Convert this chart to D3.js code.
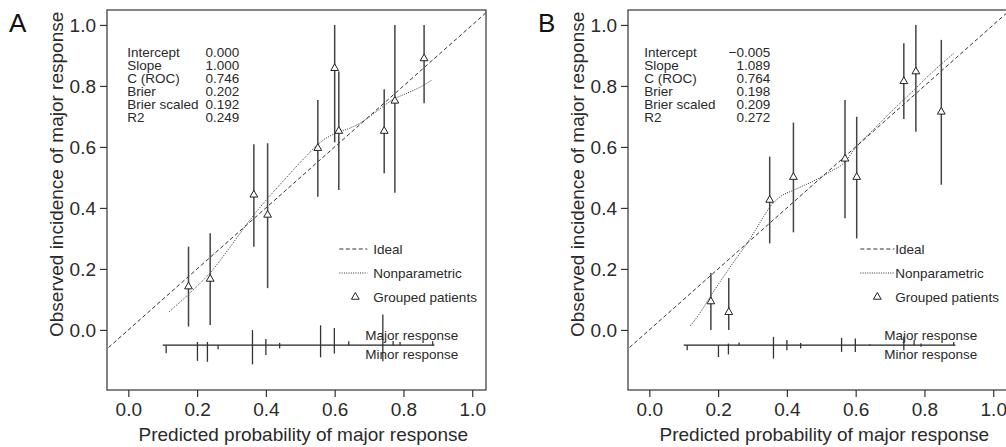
<!DOCTYPE html>
<html>
<head>
<meta charset="utf-8">
<script src="https://cdn.jsdelivr.net/npm/d3@7"></script>
<style>
  html, body { margin: 0; padding: 0; background: #fff; }
  svg { display: block; font-family: "Liberation Sans", Arial, Helvetica, sans-serif; }
</style>
</head>
<body>
<svg id="chart" width="1006" height="447"></svg>
<script>
// tick values shared by both panels
const xTicks = [0, 0.2, 0.4, 0.6, 0.8, 1.0];
const yTicks = [0, 0.2, 0.4, 0.6, 0.8, 1.0];

const statLabels = ["Intercept", "Slope", "C (ROC)", "Brier", "Brier scaled", "R2"];
const statsA = ["0.000", "1.000", "0.746", "0.202", "0.192", "0.249"];
const statsB = ["\u22120.005", "1.089", "0.764", "0.198", "0.209", "0.272"];

// grouped patients (panel A)
const predA = [0.175, 0.238, 0.365, 0.405, 0.551, 0.600, 0.612, 0.744, 0.775, 0.860];
const obsA = [0.142, 0.167, 0.443, 0.377, 0.596, 0.858, 0.652, 0.652, 0.751, 0.890];
const lowA = [0.011, 0.016, 0.273, 0.137, 0.437, 0.615, 0.459, 0.514, 0.450, 0.743];
const highA = [0.273, 0.317, 0.609, 0.612, 0.754, 1.0, 0.847, 0.789, 1.0, 1.0];

// grouped patients (panel B)
const predB = [0.179, 0.231, 0.350, 0.419, 0.569, 0.603, 0.740, 0.775, 0.849];
const obsB = [0.093, 0.058, 0.426, 0.501, 0.561, 0.501, 0.815, 0.847, 0.715];
const lowB = [0.0, 0.0, 0.284, 0.320, 0.366, 0.300, 0.692, 0.650, 0.476];
const highB = [0.187, 0.170, 0.568, 0.680, 0.754, 0.699, 0.940, 1.0, 0.951];

// nonparametric (loess) curves
const smoothA = [
  [0.119, 0.060], [0.18, 0.122], [0.24, 0.190], [0.30, 0.278], [0.34, 0.340],
  [0.40, 0.425], [0.44, 0.475], [0.48, 0.525], [0.52, 0.573], [0.55, 0.607],
  [0.57, 0.625], [0.59, 0.638], [0.615, 0.650], [0.645, 0.662], [0.674, 0.678],
  [0.72, 0.715], [0.77, 0.756], [0.81, 0.776], [0.85, 0.797], [0.884, 0.820]
];
const smoothB = [
  [0.119, 0.013], [0.15, 0.060], [0.177, 0.109], [0.216, 0.175], [0.25, 0.230],
  [0.284, 0.284], [0.31, 0.330], [0.332, 0.371], [0.352, 0.405], [0.381, 0.437],
  [0.419, 0.458], [0.45, 0.474], [0.477, 0.488], [0.526, 0.519], [0.57, 0.552],
  [0.60, 0.598], [0.65, 0.655], [0.70, 0.712], [0.768, 0.785], [0.82, 0.842],
  [0.885, 0.907]
];

// spike histogram of predicted probabilities (relative frequency)
const spikeX = [0.110, 0.201, 0.230, 0.261, 0.361, 0.400, 0.440, 0.559, 0.599, 0.641, 0.740, 0.770, 0.790, 0.885];
const majorA = [0, 1.0, 1.0, 0, 4.7, 1.9, 0.7, 6.2, 5.4, 1.2, 9.6, 1.3, 1.0, 1.2];
const minorA = [2.5, 4.9, 5.2, 1.3, 6.0, 3.1, 1.0, 3.8, 2.6, 0, 5.0, 0, 0, 0];
const majorB = [0, 0, 0.5, 0.8, 2.6, 1.6, 0.7, 2.3, 2.1, 0.3, 2.6, 1.6, 0.5, 1.0];
const minorB = [1.6, 3.7, 2.9, 0, 4.2, 1.6, 1.0, 2.1, 2.1, 0, 1.6, 0, 0.5, 0];

const legendItems = ["Ideal", "Nonparametric", "Grouped patients"];

const svg = d3.select("#chart");
const font = 19;
const ink = "#2a2a2a";

function drawPanel(cfg) {
  const x = d3.scaleLinear().domain([-0.062, 1.04]).range([cfg.left, cfg.left + 379]);
  const y = d3.scaleLinear().domain([-0.197, 1.049]).range([390, 10]);
  const spike = d3.scaleLinear().domain([0, 10]).range([0, 32]);
  const g = svg.append("g");

  const clipId = "clip" + cfg.letter;
  g.append("clipPath").attr("id", clipId)
    .append("rect")
    .attr("x", x.range()[0]).attr("y", 10)
    .attr("width", 379).attr("height", 380);

  // axes
  const xAxis = g.append("g")
    .attr("transform", "translate(0,390)")
    .call(d3.axisBottom(x).tickValues(xTicks).tickFormat(d3.format(".1f")).tickSize(7).tickPadding(6));
  const yAxis = g.append("g")
    .attr("transform", `translate(${x.range()[0]},0)`)
    .call(d3.axisLeft(y).tickValues(yTicks).tickFormat(d3.format(".1f")).tickSize(7).tickPadding(4));
  for (const ax of [xAxis, yAxis]) {
    ax.select(".domain").remove();
    ax.selectAll("line").attr("stroke", "#333").attr("stroke-width", 1.2);
    ax.selectAll("text").attr("font-size", font).attr("fill", ink).attr("font-family", null);
  }

  // frame
  g.append("rect")
    .attr("x", x.range()[0]).attr("y", 10)
    .attr("width", 379).attr("height", 380)
    .attr("fill", "none").attr("stroke", "#333").attr("stroke-width", 1.2);

  // axis titles
  g.append("text")
    .attr("x", x(0.5) + 3).attr("y", 441)
    .attr("text-anchor", "middle").attr("font-size", font).attr("fill", ink)
    .text("Predicted probability of major response");
  g.append("text")
    .attr("transform", `translate(${x.range()[0] - 44},${y(0.51)}) rotate(-90)`)
    .attr("text-anchor", "middle").attr("font-size", font).attr("fill", ink)
    .text("Observed incidence of major response");

  // panel letter
  g.append("text")
    .attr("x", cfg.letterX).attr("y", 32)
    .attr("font-size", 26).attr("fill", "#111")
    .text(cfg.letter);

  // ideal line
  g.append("line")
    .attr("clip-path", `url(#${clipId})`)
    .attr("x1", x(-0.1)).attr("y1", y(-0.1))
    .attr("x2", x(1.1)).attr("y2", y(1.1))
    .attr("stroke", "#333").attr("stroke-width", 1).attr("stroke-dasharray", "4,2.5");

  // nonparametric curve
  g.append("path")
    .datum(cfg.smooth)
    .attr("d", d3.line().x((d) => x(d[0])).y((d) => y(d[1])).curve(d3.curveMonotoneX))
    .attr("fill", "none").attr("stroke", "#333").attr("stroke-width", 1)
    .attr("stroke-dasharray", "1,1.3");

  // error bars and triangles
  const groups = cfg.pred.map((p, i) => ({ p, o: cfg.obs[i], lo: cfg.low[i], hi: cfg.high[i] }));
  g.selectAll("line.err")
    .data(groups)
    .join("line")
    .attr("class", "err")
    .attr("x1", (d) => x(d.p)).attr("x2", (d) => x(d.p))
    .attr("y1", (d) => y(d.lo)).attr("y2", (d) => y(d.hi))
    .attr("stroke", "#444").attr("stroke-width", 1.5);
  const tri = d3.symbol().type(d3.symbolTriangle).size(26);
  g.selectAll("path.tri")
    .data(groups)
    .join("path")
    .attr("class", "tri")
    .attr("transform", (d) => `translate(${x(d.p)},${y(d.o)})`)
    .attr("d", tri)
    .attr("fill", "#fff").attr("stroke", "#222").attr("stroke-width", 1);

  // stats block
  const stats = g.append("g").attr("font-size", 13.5).attr("fill", ink);
  stats.selectAll("text.lab")
    .data(statLabels)
    .join("text")
    .attr("class", "lab")
    .attr("x", x(0) + cfg.statLabelDx)
    .attr("y", (d, i) => 57 + i * 13)
    .text((d) => d);
  stats.selectAll("text.val")
    .data(cfg.stats)
    .join("text")
    .attr("class", "val")
    .attr("x", x(0) + cfg.statValDx)
    .attr("y", (d, i) => 57 + i * 13)
    .attr("text-anchor", "end")
    .text((d) => d);

  // legend
  const leg = g.append("g").attr("font-size", 13.5).attr("fill", ink);
  const ly = [249, 273, 297];
  leg.append("line")
    .attr("x1", x(0) + cfg.legLine[0]).attr("x2", x(0) + cfg.legLine[1])
    .attr("y1", ly[0]).attr("y2", ly[0])
    .attr("stroke", "#333").attr("stroke-dasharray", "4,2.5");
  leg.append("line")
    .attr("x1", x(0) + cfg.legLine[0]).attr("x2", x(0) + cfg.legLine[1])
    .attr("y1", ly[1]).attr("y2", ly[1])
    .attr("stroke", "#333").attr("stroke-dasharray", "1,1.3");
  leg.append("path")
    .attr("transform", `translate(${x(0) + cfg.legTri},${ly[2]})`)
    .attr("d", tri)
    .attr("fill", "#fff").attr("stroke", "#222");
  leg.selectAll("text")
    .data(legendItems)
    .join("text")
    .attr("x", x(0) + cfg.legText)
    .attr("y", (d, i) => ly[i] + 5)
    .text((d) => d);

  // spike histogram
  const sy = y(-0.05);
  g.append("line")
    .attr("x1", x(0.1)).attr("x2", x(0.89))
    .attr("y1", sy).attr("y2", sy)
    .attr("stroke", "#222").attr("stroke-width", 1.2);
  const spikes = spikeX.map((v, i) => ({ v, up: cfg.major[i], down: cfg.minor[i] }));
  g.selectAll("line.spike")
    .data(spikes.filter((d) => d.up > 0 || d.down > 0))
    .join("line")
    .attr("class", "spike")
    .attr("x1", (d) => x(d.v)).attr("x2", (d) => x(d.v))
    .attr("y1", (d) => sy - spike(d.up)).attr("y2", (d) => sy + spike(d.down))
    .attr("stroke", "#333").attr("stroke-width", 1.3);
  g.append("text")
    .attr("x", x(0) + cfg.respDx).attr("y", 340)
    .attr("font-size", 13.5).attr("fill", ink)
    .text("Major response");
  g.append("text")
    .attr("x", x(0) + cfg.respDx).attr("y", 359)
    .attr("font-size", 13.5).attr("fill", ink)
    .text("Minor response");
}

drawPanel({
  letter: "A", letterX: 9, left: 107,
  pred: predA, obs: obsA, low: lowA, high: highA,
  smooth: smoothA, stats: statsA, major: majorA, minor: minorA,
  statLabelDx: -1, statValDx: 111,
  legLine: [211, 239], legText: 245, legTri: 227,
  respDx: 237
});

drawPanel({
  letter: "B", letterX: 538, left: 628,
  pred: predB, obs: obsB, low: lowB, high: highB,
  smooth: smoothB, stats: statsB, major: majorB, minor: minorB,
  statLabelDx: -5, statValDx: 121,
  legLine: [211, 245], legText: 246, legTri: 228,
  respDx: 235
});
</script>
</body>
</html>
